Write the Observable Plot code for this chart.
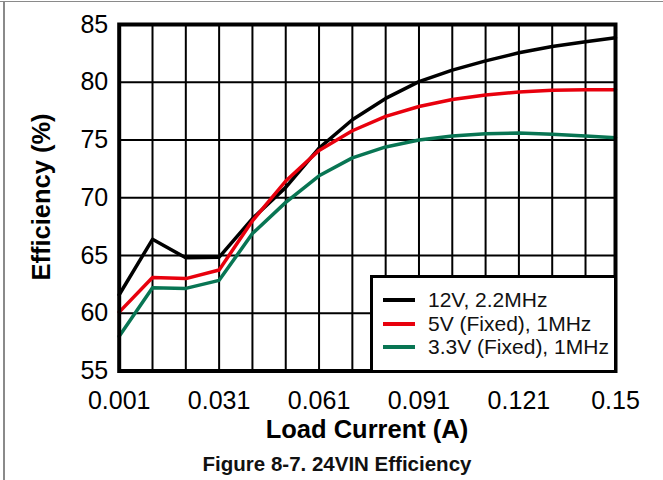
<!DOCTYPE html>
<html>
<head>
<meta charset="utf-8">
<script src="https://cdn.jsdelivr.net/npm/d3@7"></script>
<script src="https://cdn.jsdelivr.net/npm/@observablehq/plot@0.6"></script>
<style>
  html, body { margin: 0; padding: 0; background: #fff; }
  #wrap { position: relative; width: 663px; height: 480px; overflow: hidden; background: #fff;
          font-family: "Liberation Sans", Arial, sans-serif; color: #000; }
  #wrap svg { position: absolute; left: 0; top: 0; }
  .abs { position: absolute; white-space: nowrap; }
</style>
</head>
<body>
<div id="wrap"></div>
<script>
// ---- data ----
const loadCurrent = [0.001, 0.011, 0.021, 0.031, 0.041, 0.051, 0.061, 0.071, 0.081, 0.091, 0.101, 0.111, 0.121, 0.131, 0.141, 0.15];
const eff12V  = [61.6, 66.4, 64.8, 64.85, 68.2, 70.9, 74.3, 76.75, 78.6, 80.05, 81.05, 81.85, 82.55, 83.1, 83.5, 83.85];
const eff5V   = [60.1, 63.1, 63.0, 63.75, 68.0, 71.45, 74.1, 75.8, 77.05, 77.9, 78.5, 78.9, 79.15, 79.3, 79.35, 79.35];
const eff3V3  = [58.0, 62.2, 62.15, 62.85, 66.9, 69.6, 71.9, 73.45, 74.4, 75.0, 75.35, 75.55, 75.6, 75.5, 75.35, 75.2];
const seriesNames  = ["12V, 2.2MHz", "5V (Fixed), 1MHz", "3.3V (Fixed), 1MHz"];
const seriesColors = ["#000000", "#e8000d", "#087553"];
const xTicks = [0.001, 0.031, 0.061, 0.091, 0.121, 0.15];
const xTickLabels = ["0.001", "0.031", "0.061", "0.091", "0.121", "0.15"];
const xGrid = [0.011, 0.021, 0.031, 0.041, 0.051, 0.061, 0.071, 0.081, 0.091, 0.101, 0.111, 0.121, 0.131, 0.141];
const yTicks = [55, 60, 65, 70, 75, 80, 85];
const yGrid = [60, 65, 70, 75, 80];
const xLabel = "Load Current (A)";
const yLabel = "Efficiency (%)";
const captionText = "Figure 8-7. 24VIN Efficiency";

const series = [eff12V, eff5V, eff3V3].map((vals, i) =>
  loadCurrent.map((x, j) => ({x, y: vals[j], name: seriesNames[i]})));

const W = 663, H = 448;
const chart = Plot.plot({
  width: W, height: H,
  marginLeft: 118.7, marginRight: 48, marginTop: 24, marginBottom: H - 370.5,
  style: {fontFamily: "Liberation Sans, Arial, sans-serif", fontSize: "25px", color: "#000", background: "#fff"},
  x: {type: "linear", domain: [0.001, 0.15]},
  y: {type: "linear", domain: [55, 85]},
  marks: [
    Plot.ruleX(xGrid, {stroke: "#000", strokeWidth: 2}),
    Plot.ruleY(yGrid, {stroke: "#000", strokeWidth: 2}),
    Plot.line(series[0], {x: "x", y: "y", stroke: seriesColors[0], strokeWidth: 3.5, strokeLinejoin: "round"}),
    Plot.line(series[2], {x: "x", y: "y", stroke: seriesColors[2], strokeWidth: 3.5, strokeLinejoin: "round"}),
    Plot.line(series[1], {x: "x", y: "y", stroke: seriesColors[1], strokeWidth: 3.5, strokeLinejoin: "round"}),
    Plot.frame({stroke: "#000", strokeWidth: 4}),
    Plot.axisX(xTicks, {tickSize: 0, tickPadding: 20, fontSize: 25, label: null,
      tickFormat: (d) => xTickLabels[xTicks.indexOf(d)]}),
    Plot.axisY(yTicks, {tickSize: 0, tickPadding: 11, fontSize: 25, label: null, tickFormat: (d) => String(d)})
  ]
});

const wrap = document.getElementById("wrap");
wrap.appendChild(chart);

function addDiv(css, text) {
  const d = document.createElement("div");
  d.className = "abs";
  d.style.cssText = css;
  if (text != null) d.textContent = text;
  wrap.appendChild(d);
  return d;
}

// page frame lines (gray)
addDiv("left:0;top:0.5px;width:663px;height:1.5px;background:#8a8a8a;");
addDiv("left:3px;top:0.5px;width:1.5px;height:480px;background:#8a8a8a;");

// axis titles
addDiv("left:0;width:" + (2 * 367) + "px;top:416.5px;text-align:center;font-weight:bold;font-size:25.5px;line-height:25.5px;", xLabel);
addDiv("left:41.5px;top:197px;font-weight:bold;font-size:25.5px;line-height:25.5px;transform:translate(-50%,-50%) rotate(-90deg);", yLabel);
// caption
addDiv("left:0;width:" + (2 * 337) + "px;top:453.5px;text-align:center;font-weight:bold;font-size:20.5px;line-height:20.5px;color:#111;", captionText);

// legend box
addDiv("left:370px;top:275px;width:247px;height:97.5px;box-sizing:border-box;border:3.5px solid #000;background:#fff;");
const rowY = [300, 323.5, 347.3];
seriesNames.forEach((name, i) => {
  addDiv("left:382.7px;top:" + (rowY[i] - 2) + "px;width:32.5px;height:4px;background:" + seriesColors[i] + ";");
  addDiv("left:428px;top:" + (rowY[i] - 12) + "px;height:24px;font-size:21px;line-height:24px;color:#111;", name);
});
</script>
</body>
</html>
